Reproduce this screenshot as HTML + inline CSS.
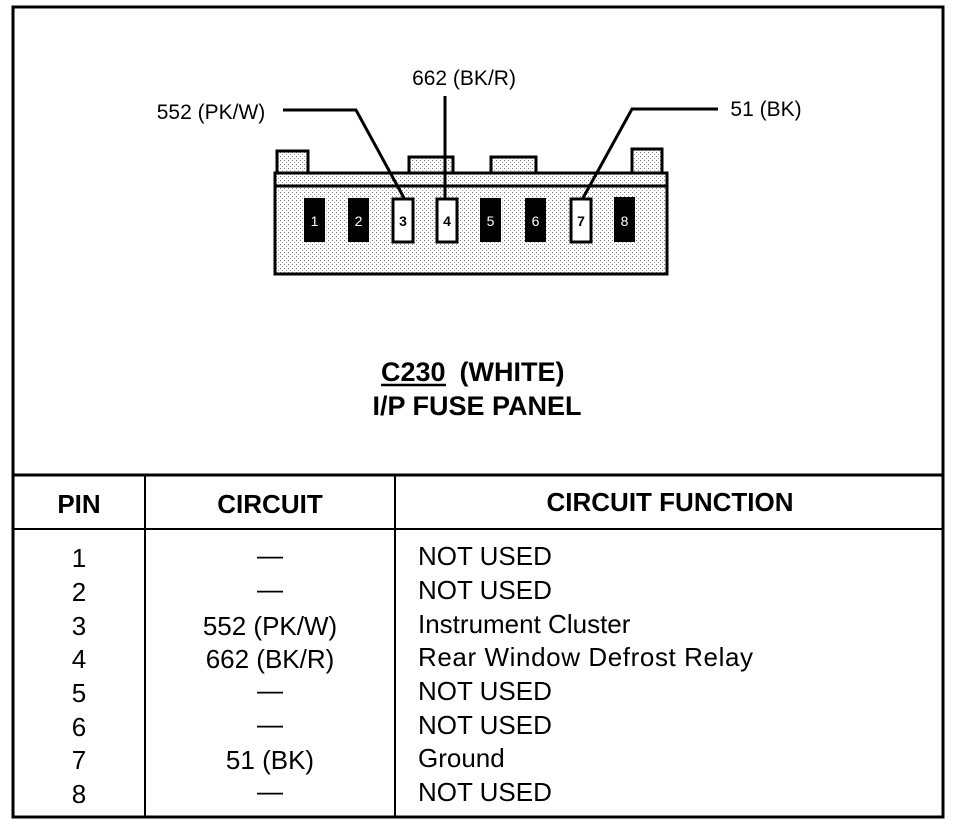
<!DOCTYPE html>
<html><head><meta charset="utf-8"><style>
html,body{margin:0;padding:0;background:#fff;}
svg{display:block;}
text{font-family:"Liberation Sans",Arial,sans-serif;fill:#000;}
</style></head><body>
<svg width="960" height="824" viewBox="0 0 960 824" xmlns="http://www.w3.org/2000/svg">
<defs>
<pattern id="dot" width="4" height="4" patternUnits="userSpaceOnUse">
<rect width="4" height="4" fill="#fff"/><rect x="0" y="0" width="1" height="1" fill="#777"/><rect x="2" y="2" width="1" height="1" fill="#999"/>
</pattern>
</defs>
<rect x="13" y="7" width="930" height="810" fill="none" stroke="#000" stroke-width="3"/>
<rect x="277" y="151" width="31" height="22" fill="url(#dot)" stroke="#000" stroke-width="3"/>
<rect x="632" y="149" width="30" height="24" fill="url(#dot)" stroke="#000" stroke-width="3"/>
<rect x="409" y="157" width="44" height="16" fill="url(#dot)" stroke="#000" stroke-width="3"/>
<rect x="491" y="157" width="45" height="16" fill="url(#dot)" stroke="#000" stroke-width="3"/>
<rect x="275" y="173" width="392" height="101" fill="url(#dot)" stroke="#000" stroke-width="3"/>
<line x1="275" y1="186" x2="667" y2="186" stroke="#000" stroke-width="3"/>
<g font-size="14" text-anchor="middle">
<rect x="304" y="198" width="21" height="44" fill="#000"/><text x="314.5" y="226" style="fill:#fff">1</text>
<rect x="348" y="198" width="21" height="44" fill="#000"/><text x="358.5" y="226" style="fill:#fff">2</text>
<rect x="393" y="199" width="20" height="43" fill="#fff" stroke="#000" stroke-width="3"/><text x="403" y="226" font-weight="bold">3</text>
<rect x="437" y="199" width="20" height="43" fill="#fff" stroke="#000" stroke-width="3"/><text x="447" y="226" font-weight="bold">4</text>
<rect x="480" y="198" width="21" height="44" fill="#000"/><text x="490.5" y="226" style="fill:#fff">5</text>
<rect x="525" y="198" width="21" height="44" fill="#000"/><text x="535.5" y="226" style="fill:#fff">6</text>
<rect x="571" y="199" width="20" height="43" fill="#fff" stroke="#000" stroke-width="3"/><text x="581" y="226" font-weight="bold">7</text>
<rect x="614" y="197" width="21" height="45" fill="#000"/><text x="624.5" y="226" style="fill:#fff">8</text>
</g>
<polyline points="283,110 356,110 404,198" fill="none" stroke="#000" stroke-width="3"/>
<line x1="445" y1="96" x2="445" y2="198" stroke="#000" stroke-width="3"/>
<polyline points="718,109 632,109 583,198" fill="none" stroke="#000" stroke-width="3"/>
<text x="464" y="85" font-size="21" text-anchor="middle">662 (BK/R)</text>
<text x="211" y="119" font-size="21" text-anchor="middle">552 (PK/W)</text>
<text x="766" y="116" font-size="21" text-anchor="middle">51 (BK)</text>
<text x="381" y="381" font-size="27" font-weight="bold">C230<tspan dx="14">(WHITE)</tspan></text>
<line x1="381" y1="385" x2="446" y2="385" stroke="#000" stroke-width="2.5"/>
<text x="477" y="415" font-size="27" font-weight="bold" text-anchor="middle">I/P FUSE PANEL</text>
<line x1="13" y1="475" x2="943" y2="475" stroke="#000" stroke-width="3"/>
<line x1="13" y1="529" x2="943" y2="529" stroke="#000" stroke-width="2"/>
<line x1="145" y1="475" x2="145" y2="817" stroke="#000" stroke-width="2"/>
<line x1="395" y1="475" x2="395" y2="817" stroke="#000" stroke-width="2"/>
<g font-size="26" font-weight="bold" text-anchor="middle">
<text x="79" y="513">PIN</text><text x="270" y="513">CIRCUIT</text><text x="670" y="511">CIRCUIT FUNCTION</text>
</g>
<g font-size="26">
<g text-anchor="middle">
<text x="79" y="567">1</text><text x="79" y="601">2</text><text x="79" y="635">3</text><text x="79" y="668">4</text>
<text x="79" y="702">5</text><text x="79" y="736">6</text><text x="79" y="769">7</text><text x="79" y="803">8</text>
<text x="270" y="564">—</text><text x="270" y="598">—</text><text x="270" y="635">552 (PK/W)</text><text x="270" y="668">662 (BK/R)</text>
<text x="270" y="699">—</text><text x="270" y="733">—</text><text x="270" y="769">51 (BK)</text><text x="270" y="800">—</text>
</g>
<text x="418" y="565">NOT USED</text><text x="418" y="599">NOT USED</text><text x="418" y="633">Instrument Cluster</text>
<text x="418" y="666" textLength="335">Rear Window Defrost Relay</text><text x="418" y="700">NOT USED</text><text x="418" y="734">NOT USED</text>
<text x="418" y="767">Ground</text><text x="418" y="801">NOT USED</text>
</g>
</svg>
</body></html>
